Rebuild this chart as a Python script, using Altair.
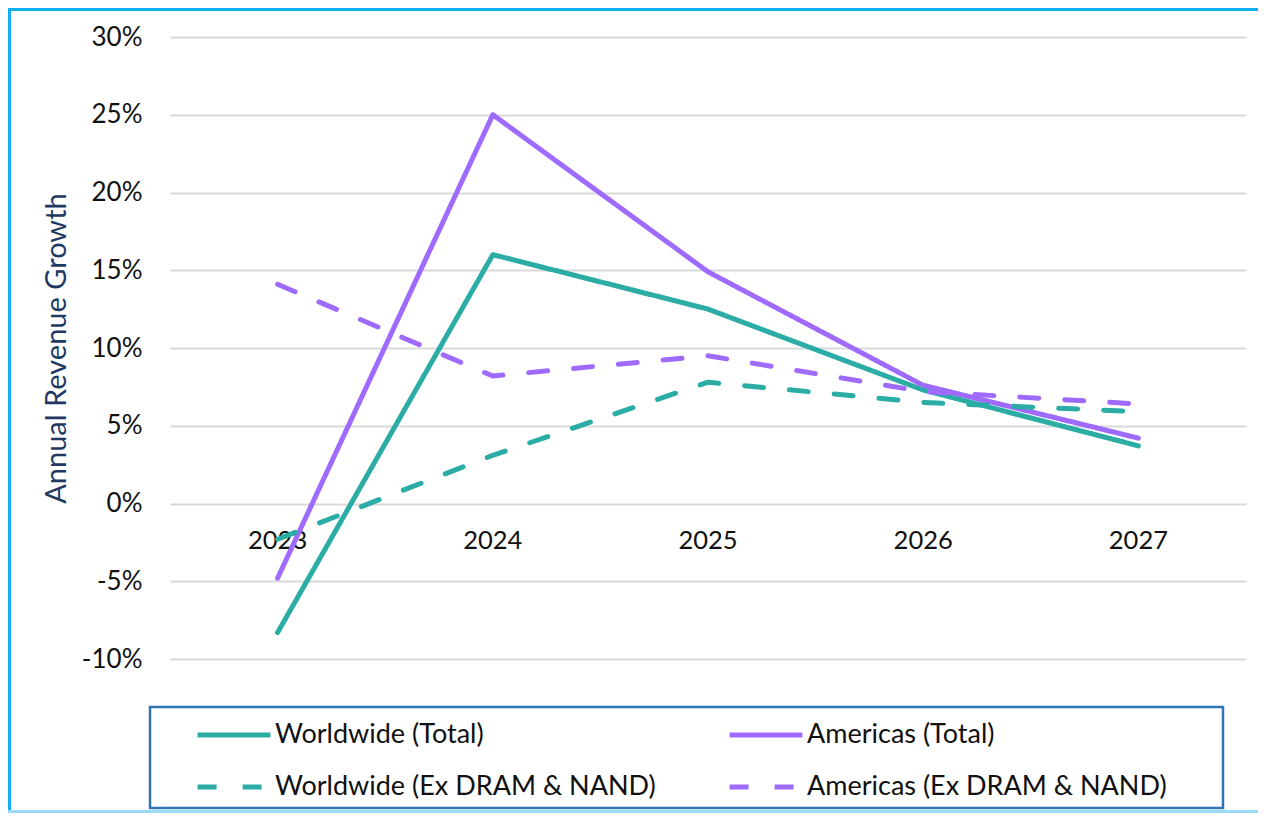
import altair as alt
import pandas as pd

years = ["2023", "2024", "2025", "2026", "2027"]
series_names = [
    "Worldwide (Total)",
    "Americas (Total)",
    "Worldwide (Ex DRAM & NAND)",
    "Americas (Ex DRAM & NAND)",
]
worldwide_total = [-8.3, 16.0, 12.5, 7.3, 3.7]
americas_total = [-4.8, 25.0, 14.9, 7.6, 4.2]
worldwide_ex = [-2.3, 3.1, 7.8, 6.5, 5.9]
americas_ex = [14.1, 8.2, 9.5, 7.2, 6.4]
y_ticks = [-10, -5, 0, 5, 10, 15, 20, 25, 30]

TEAL = "#2BADA6"
PURPLE = "#9F6BFF"
FONT = "Lato"

rows = []
for name, vals in zip(series_names, [worldwide_total, americas_total, worldwide_ex, americas_ex]):
    for yr, v in zip(years, vals):
        rows.append({"year": yr, "value": v, "series": name})
df = pd.DataFrame(rows)
labels_df = pd.DataFrame({"year": years, "zero": [0] * len(years)})
one = pd.DataFrame({"k": [0]})

W, H = 1076, 622

xscale = alt.Scale(type="point", domain=years, padding=0.5)
yscale = alt.Scale(domain=[-10, 30], nice=False, zero=False)

# decorative frames (layout only)
outer_top = alt.Chart(one).mark_rect(color="#12AFEE").encode(
    x=alt.value(-162), x2=alt.value(1090), y=alt.value(-29), y2=alt.value(-26))
outer_left = alt.Chart(one).mark_rect(color="#12AFEE").encode(
    x=alt.value(-162), x2=alt.value(-159), y=alt.value(-29), y2=alt.value(776))
outer_bottom = alt.Chart(one).mark_rect(color="#9ADBF6").encode(
    x=alt.value(-162), x2=alt.value(1090), y=alt.value(773), y2=alt.value(776))
legend_box = alt.Chart(one).mark_rect(fill="white", stroke="#2E75B6", strokeWidth=2.5).encode(
    x=alt.value(-20), x2=alt.value(1053), y=alt.value(670), y2=alt.value(771))

year_text = alt.Chart(labels_df).mark_text(
    dy=37, fontSize=25.5, font=FONT, color="#111111", baseline="middle", align="center"
).encode(
    x=alt.X("year:N", scale=xscale, axis=None),
    y=alt.Y("zero:Q", scale=yscale),
    text="year:N",
)

legend_def = dict(
    title=None,
    orient="none",
    direction="horizontal",
    legendX=25,
    legendY=659,
    columns=2,
    columnPadding=63,
    rowPadding=-22,
    symbolType="stroke",
    symbolSize=5300,
    symbolStrokeWidth=5,
    labelFont=FONT,
    labelFontSize=27,
    labelColor="#111111",
    labelOffset=2,
    padding=0,
    labelLimit=600,
)

lines = alt.Chart(df).mark_line(strokeWidth=5, strokeCap="round", strokeJoin="round").encode(
    x=alt.X("year:N", scale=xscale, axis=None, sort=years),
    y=alt.Y(
        "value:Q",
        scale=yscale,
        axis=alt.Axis(
            values=y_ticks,
            labelExpr="datum.value + '%'",
            title="Annual Revenue Growth",
            titleFont=FONT,
            titleFontSize=29,
            titleFontWeight="normal",
            titleColor="#1F3864",
            titleX=-114,
            titleY=311,
            titleAlign="center",
            titleBaseline="middle",
            titleAngle=-90,
            labelFont=FONT,
            labelFontSize=26,
            labelColor="#111111",
            labelPadding=28,
            ticks=False,
            domain=False,
            grid=True,
            gridColor="#D9D9D9",
            gridWidth=2,
        ),
    ),
    color=alt.Color(
        "series:N",
        scale=alt.Scale(domain=series_names, range=[TEAL, PURPLE, TEAL, PURPLE]),
        legend=alt.Legend(**legend_def),
    ),
    strokeDash=alt.StrokeDash(
        "series:N",
        scale=alt.Scale(domain=series_names, range=[[1, 0], [1, 0], [19, 26], [19, 26]]),
        legend=alt.Legend(**legend_def),
    ),
)

chart = alt.layer(outer_top, outer_left, outer_bottom, legend_box, year_text, lines).properties(
    width=W,
    height=H,
    background="white",
    autosize=alt.AutoSizeParams(type="none"),
    padding={"left": 162, "top": 29, "right": 12, "bottom": 154},
).configure_view(strokeWidth=0, stroke="transparent")

chart.save("out.html", embed_options={"renderer": "svg", "actions": False})
